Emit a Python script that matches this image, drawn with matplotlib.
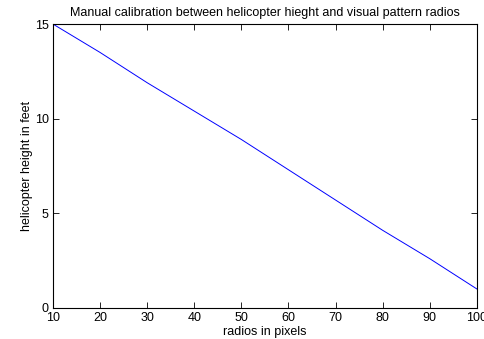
import matplotlib
matplotlib.use('Agg')
import matplotlib.pyplot as plt

# data
radios = [10, 20, 30, 40, 50, 60, 70, 80, 90, 100]
height = [15.0, 13.5, 11.9, 10.4, 8.9, 7.3, 5.7, 4.1, 2.6, 1.0]
xticks = [10, 20, 30, 40, 50, 60, 70, 80, 90, 100]
yticks = [0, 5, 10, 15]

plt.rcParams['font.family'] = ['Liberation Sans', 'DejaVu Sans']
plt.rcParams['font.size'] = 9

fig = plt.figure(figsize=(4.85, 3.39), dpi=100)
ax = fig.add_axes([0.109, 0.0915, 0.8745, 0.8377])
ax.plot(radios, height, color='#0000ff', linewidth=0.7)
ax.set_xlim(10, 100)
ax.set_ylim(0, 15)
ax.set_xticks(xticks)
ax.set_yticks(yticks)
ax.tick_params(direction='in', top=True, right=True, length=4, width=0.6, pad=3)
for s in ax.spines.values():
    s.set_linewidth(0.8)
ax.set_title('Manual calibration between helicopter hieght and visual pattern radios', fontsize=9, pad=6)
ax.set_xlabel('radios in pixels', labelpad=1)
ax.set_ylabel('helicopter height in feet', labelpad=1)

plt.savefig('out.png', dpi=100)
